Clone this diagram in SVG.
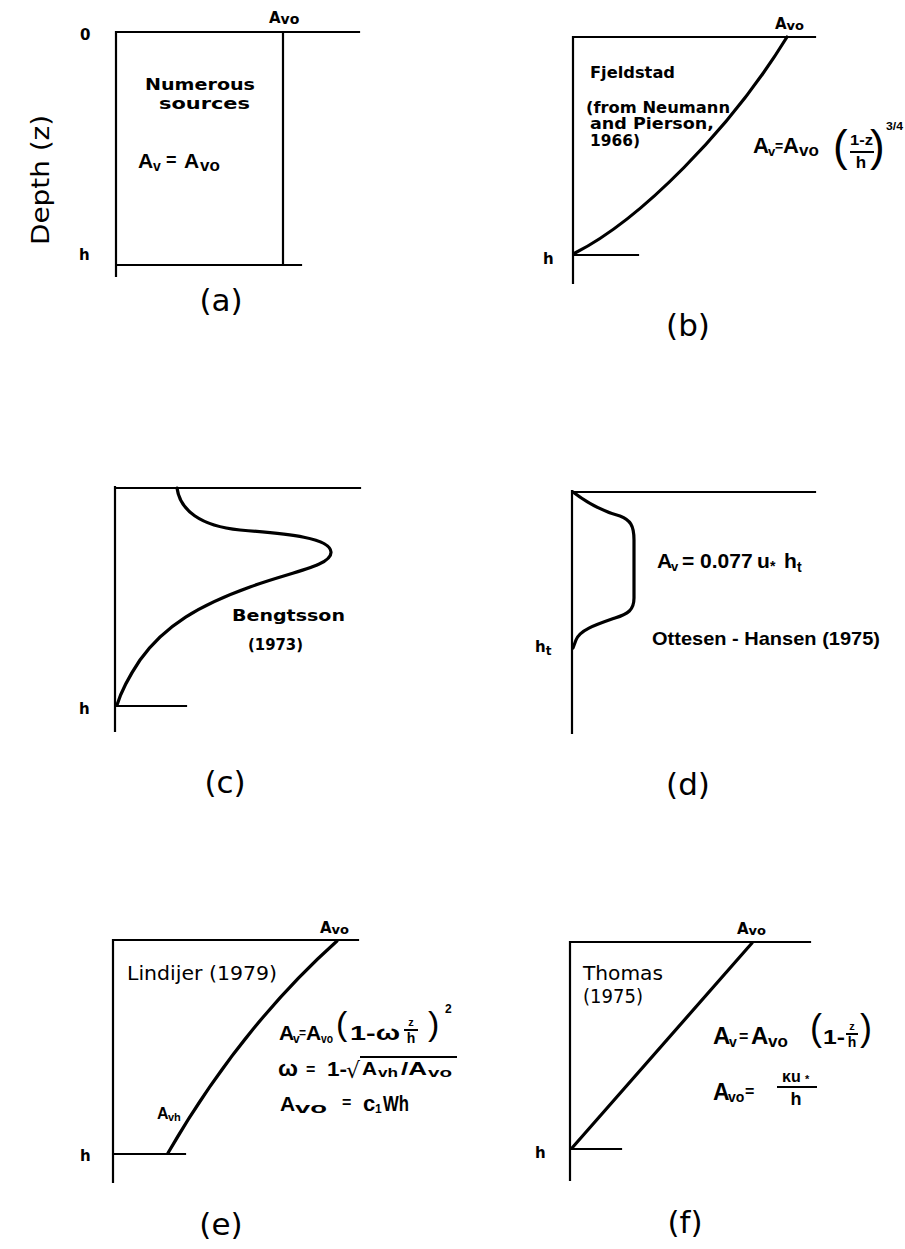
<svg xmlns="http://www.w3.org/2000/svg" width="905" height="1249" viewBox="0 0 905 1249">
<style>
.ax{fill:none;stroke:#000;stroke-width:2.2;stroke-linecap:square}
.cv{fill:none;stroke:#000;stroke-width:3.2;stroke-linecap:round;stroke-linejoin:round}
.bar{stroke:#000;stroke-width:2}
text{font-family:"DejaVu Sans","Liberation Sans",sans-serif;fill:#000}
.b{font-weight:bold}
.s{font-size:15px;font-weight:bold}
.f{font-family:"Liberation Sans","DejaVu Sans",sans-serif;font-weight:bold}
.p{font-family:"Liberation Sans","DejaVu Sans",sans-serif;font-weight:normal}
.lab{font-size:31px}
</style>
<rect width="905" height="1249" fill="#fff"/>

<g id="panel-a">
  <path class="ax" d="M116,32 V276 M116,32 H359 M283,32 V265 M116,265 H301"/>
  <text x="80" y="40" class="s">0</text>
  <text x="79" y="260" class="s" font-size="16">h</text>
  <text x="269" y="23" class="s" font-size="19">A<tspan font-size="14" dy="1">vo</tspan></text>
  <text x="145" y="90" class="s" font-size="16" textLength="110" lengthAdjust="spacingAndGlyphs">Numerous</text>
  <text x="159" y="109" class="s" font-size="16" textLength="91" lengthAdjust="spacingAndGlyphs">sources</text>
  <text x="138" y="168" class="f" font-size="21">A</text>
  <text x="153" y="171" class="f" font-size="14">v</text>
  <text x="166" y="166" class="f" font-size="18">=</text>
  <text x="184" y="168" class="f" font-size="21">A</text>
  <text x="200" y="171" class="f" font-size="17">vo</text>
  <text transform="translate(49,180) rotate(-90)" text-anchor="middle" font-size="24" textLength="130" lengthAdjust="spacingAndGlyphs">Depth  (z)</text>
  <text x="221" y="311" class="lab" text-anchor="middle">(a)</text>
</g>

<g id="panel-b">
  <path class="ax" d="M573,37 V283 M573,37 H815 M573,255 H638"/>
  <path class="cv" d="M575,253 C640,220 730,130 787,37"/>
  <text x="543" y="264" class="s" font-size="16">h</text>
  <text x="775" y="29" class="s" font-size="18">A<tspan font-size="13" dy="1">vo</tspan></text>
  <text x="590" y="78" class="s" font-size="16" textLength="85" lengthAdjust="spacingAndGlyphs">Fjeldstad</text>
  <text x="586" y="113" class="s" textLength="144" lengthAdjust="spacingAndGlyphs">(from Neumann</text>
  <text x="590" y="129" class="s" textLength="124" lengthAdjust="spacingAndGlyphs">and Pierson,</text>
  <text x="590" y="146" class="s" textLength="50" lengthAdjust="spacingAndGlyphs">1966)</text>
  <text x="753" y="153" class="f" font-size="22">A</text>
  <text x="768" y="156" class="f" font-size="13">v</text>
  <text x="775" y="151" class="f" font-size="14">=</text>
  <text x="783" y="153" class="f" font-size="22">A</text>
  <text x="799" y="156" class="f" font-size="17">vo</text>
  <text x="833" y="161" class="p" font-size="44">(</text>
  <text x="850" y="145" class="f" font-size="15" textLength="23" lengthAdjust="spacingAndGlyphs">1-z</text>
  <line class="bar" x1="850" y1="152" x2="874" y2="152"/>
  <text x="861" y="168" class="f" font-size="17" text-anchor="middle">h</text>
  <text x="870" y="161" class="p" font-size="44">)</text>
  <text x="886" y="130" class="f" font-size="11" textLength="17" lengthAdjust="spacingAndGlyphs">3/4</text>
  <text x="688" y="336" class="lab" text-anchor="middle">(b)</text>
</g>

<g id="panel-c">
  <path class="ax" d="M115,487 V731 M115,488 H360 M115,706 H186"/>
  <path class="cv" stroke-width="2.6" d="M177,488 C180,510 200,526 240,530 C290,534 330,538 331,552 C332,566 290,572 250,587 C200,605 165,625 140,660 C128,678 120,695 117,705"/>
  <text x="79" y="714" class="s" font-size="16">h</text>
  <text x="232" y="621" class="s" font-size="17" textLength="113" lengthAdjust="spacingAndGlyphs">Bengtsson</text>
  <text x="248" y="650" class="s" textLength="55" lengthAdjust="spacingAndGlyphs">(1973)</text>
  <text x="225" y="793" class="lab" text-anchor="middle">(c)</text>
</g>

<g id="panel-d">
  <path class="ax" d="M572,491 V733 M572,492 H815"/>
  <path class="cv" d="M573,492 C590,505 605,512 620,516 C630,520 634,525 634,540 L634,598 C634,610 628,614 615,618 C595,625 580,630 576,640 L573,648"/>
  <text x="535" y="652" class="s" font-size="17">h<tspan font-size="12" dy="3">t</tspan></text>
  <text x="657" y="568" class="f" font-size="21">A</text>
  <text x="671" y="571" class="f" font-size="13">v</text>
  <text x="682" y="568" class="f" font-size="21">= 0.077</text>
  <text x="757" y="568" class="f" font-size="21">u</text>
  <text x="770" y="571" class="f" font-size="14">*</text>
  <text x="784" y="568" class="f" font-size="21">h</text>
  <text x="797" y="572" class="f" font-size="14">t</text>
  <text x="652" y="645" class="f" font-size="19" textLength="228" lengthAdjust="spacingAndGlyphs">Ottesen - Hansen (1975)</text>
  <text x="688" y="795" class="lab" text-anchor="middle">(d)</text>
</g>

<g id="panel-e">
  <path class="ax" d="M113,940 V1182 M113,940 H358 M113,1154 H185"/>
  <path class="cv" stroke-width="2.8" d="M168,1153 Q241,1027 337,941"/>
  <text x="80" y="1161" class="s" font-size="17">h</text>
  <text x="320" y="933" class="s" font-size="18">A<tspan font-size="13" dy="1">vo</tspan></text>
  <text x="127" y="980" font-size="19" textLength="150" lengthAdjust="spacingAndGlyphs">Lindijer (1979)</text>
  <text x="157" y="1119" class="f" font-size="16">A</text>
  <text x="168" y="1121" class="f" font-size="11">vh</text>
  <text x="279" y="1040" class="f" font-size="21">A</text>
  <text x="293" y="1043" class="f" font-size="12">v</text>
  <text x="299" y="1037" class="f" font-size="12">=</text>
  <text x="306" y="1040" class="f" font-size="21">A</text>
  <text x="321" y="1043" class="f" font-size="13" textLength="12" lengthAdjust="spacingAndGlyphs">vo</text>
  <text x="336" y="1035" class="p" font-size="34">(</text>
  <text x="350" y="1040" class="f" font-size="21" textLength="50" lengthAdjust="spacingAndGlyphs">1-ω</text>
  <text x="411" y="1026" class="f" font-size="11" text-anchor="middle">z</text>
  <line class="bar" x1="404" y1="1030" x2="418" y2="1030"/>
  <text x="411" y="1043" class="f" font-size="14" text-anchor="middle">h</text>
  <text x="428" y="1035" class="p" font-size="34">)</text>
  <text x="445" y="1013" class="f" font-size="12">2</text>
  <text x="278" y="1076" class="f" font-size="22" textLength="20" lengthAdjust="spacingAndGlyphs">ω</text>
  <text x="306" y="1075" class="f" font-size="16">=</text>
  <text x="327" y="1076" class="f" font-size="21" textLength="20" lengthAdjust="spacingAndGlyphs">1-</text>
  <text x="346" y="1078" font-size="22">√</text>
  <line class="bar" x1="360" y1="1057" x2="457" y2="1057"/>
  <text x="362" y="1075" class="f" font-size="18" textLength="15" lengthAdjust="spacingAndGlyphs">A</text>
  <text x="378" y="1077" class="f" font-size="13" textLength="20" lengthAdjust="spacingAndGlyphs">vh</text>
  <text x="401" y="1075" class="f" font-size="18" textLength="26" lengthAdjust="spacingAndGlyphs">/A</text>
  <text x="428" y="1077" class="f" font-size="13" textLength="24" lengthAdjust="spacingAndGlyphs">vo</text>
  <text x="280" y="1111" class="f" font-size="21">A</text>
  <text x="295" y="1113" class="f" font-size="15" textLength="32" lengthAdjust="spacingAndGlyphs">vo</text>
  <text x="342" y="1108" class="f" font-size="16">=</text>
  <text x="363" y="1111" class="f" font-size="22">c</text>
  <text x="375" y="1113" class="f" font-size="12">1</text>
  <text x="383" y="1111" class="f" font-size="22" textLength="26" lengthAdjust="spacingAndGlyphs">Wh</text>
  <text x="221" y="1235" class="lab" text-anchor="middle">(e)</text>
</g>

<g id="panel-f">
  <path class="ax" d="M570,942 V1180 M570,942 H810 M570,1149 H621"/>
  <path class="cv" d="M572,1148 L752,943"/>
  <text x="535" y="1158" class="s" font-size="17">h</text>
  <text x="737" y="934" class="s" font-size="18">A<tspan font-size="13" dy="1">vo</tspan></text>
  <text x="583" y="980" font-size="19" textLength="80" lengthAdjust="spacingAndGlyphs">Thomas</text>
  <text x="583" y="1003" font-size="19" textLength="60" lengthAdjust="spacingAndGlyphs">(1975)</text>
  <text x="713" y="1044" class="f" font-size="24">A</text>
  <text x="729" y="1047" class="f" font-size="14">v</text>
  <text x="739" y="1042" class="f" font-size="16">=</text>
  <text x="751" y="1044" class="f" font-size="24">A</text>
  <text x="768" y="1047" class="f" font-size="17">vo</text>
  <text x="810" y="1040" class="p" font-size="36">(</text>
  <text x="823" y="1044" class="f" font-size="21" textLength="22" lengthAdjust="spacingAndGlyphs">1-</text>
  <text x="852" y="1030" class="f" font-size="11" text-anchor="middle">z</text>
  <line class="bar" x1="846" y1="1034" x2="858" y2="1034"/>
  <text x="852" y="1047" class="f" font-size="14" text-anchor="middle">h</text>
  <text x="860" y="1040" class="p" font-size="36">)</text>
  <text x="713" y="1100" class="f" font-size="23">A</text>
  <text x="728" y="1102" class="f" font-size="14">vo</text>
  <text x="745" y="1097" class="f" font-size="16">=</text>
  <text x="782" y="1082" class="f" font-size="16">κu</text>
  <text x="805" y="1083" class="f" font-size="11">*</text>
  <line class="bar" x1="777" y1="1087" x2="817" y2="1087"/>
  <text x="796" y="1105" class="f" font-size="18" text-anchor="middle">h</text>
  <text x="685" y="1233" class="lab" text-anchor="middle">(f)</text>
</g>

<g id="connectors"></g>
</svg>
